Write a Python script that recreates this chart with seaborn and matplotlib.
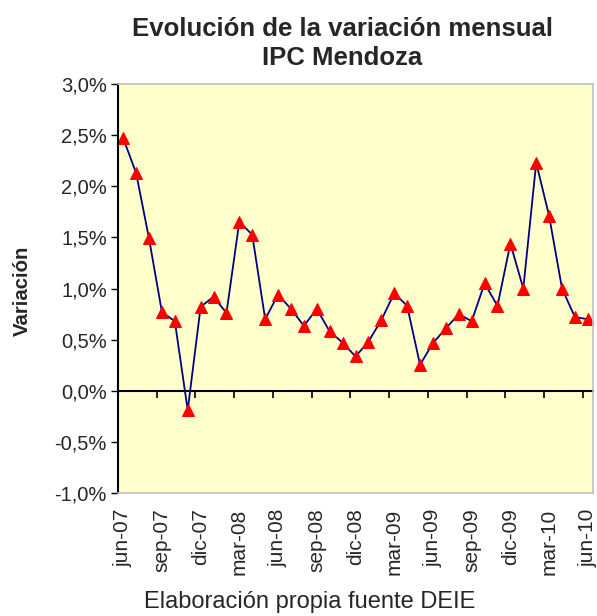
import pandas as pd
import matplotlib.pyplot as plt
import seaborn as sns
from matplotlib.ticker import FuncFormatter

# Monthly CPI variation, Mendoza (jun-07 .. jun-10), in percent
months = ["jun", "jul", "ago", "sep", "oct", "nov", "dic",
          "ene", "feb", "mar", "abr", "may"]
years = ["07"] * 7 + ["08"] * 12 + ["09"] * 12 + ["10"] * 6
month_labels = (months + months + months + months)[:37]
variation = [2.47, 2.13, 1.49, 0.77, 0.68, -0.19, 0.82, 0.92, 0.76, 1.655,
             1.525, 0.70, 0.94, 0.80, 0.635, 0.80, 0.58, 0.47, 0.335,
             0.48, 0.69, 0.955, 0.83, 0.254, 0.466, 0.61, 0.75, 0.68,
             1.05, 0.83, 1.44, 1.00, 2.23, 1.71, 1.00, 0.72, 0.70]


def build_data():
    labels = [m + "-" + y for m, y in zip(month_labels, years)]
    return pd.DataFrame({"Mes": labels, "pos": range(len(labels)), "Variacion": variation})


def plot_ipc(data):
    sns.set_style("white")
    plt.rcParams["font.family"] = ["Liberation Sans", "DejaVu Sans"]

    fig = plt.figure(figsize=(5.97, 6.16), dpi=100)
    ax = fig.add_axes([0.1977, 0.1997, 0.7956, 0.6639])
    ax.set_facecolor("#FFFFCC")

    sns.lineplot(x="pos", y="Variacion", data=data, ax=ax, color="#000080",
                 linewidth=1.3, marker="^", markersize=8,
                 markerfacecolor="red", markeredgecolor="red", markeredgewidth=0.75)

    ax.set_xlim(-0.4, len(data) - 0.6)
    ax.set_ylim(-1.0, 3.0)
    ax.set_yticks([-1.0, -0.5, 0, 0.5, 1.0, 1.5, 2.0, 2.5, 3.0])
    ax.yaxis.set_major_formatter(FuncFormatter(lambda v, p: f"{v:.1f}%".replace(".", ",")))
    ax.tick_params(axis="y", direction="out", length=5, width=1, color="black",
                   labelsize=14.5, pad=3, left=True)

    tick_pos = data["pos"][::3]
    ax.set_xticks(tick_pos)
    ax.set_xticklabels(data["Mes"][::3], rotation=90)
    ax.tick_params(axis="x", length=0, labelsize=15, pad=11)

    # zero line with downward ticks, as in the original chart
    zero_axis = ax.secondary_xaxis(0.25)
    zero_axis.set_xticks(tick_pos - 0.4)
    zero_axis.set_xticklabels([])
    zero_axis.tick_params(direction="out", length=5, width=1.2, color="black")
    zero_axis.spines["bottom"].set_linewidth(1.5)
    zero_axis.spines["bottom"].set_color("black")

    for side in ["top", "right", "bottom"]:
        ax.spines[side].set_color("#C0C0C0")
        ax.spines[side].set_linewidth(1.2)
    ax.spines["left"].set_color("black")
    ax.spines["left"].set_linewidth(1.5)

    ax.set_xlabel("")
    ax.set_ylabel("")
    fig.text(0.037, 0.528, "Variación", rotation=90, ha="center", va="center",
             fontsize=14.7, fontweight="bold")
    fig.text(0.573, 0.929, "Evolución de la variación mensual\nIPC Mendoza",
             ha="center", va="center", fontsize=18.5, fontweight="bold", linespacing=1.25)
    fig.text(0.518, 0.022, "Elaboración propia fuente DEIE", ha="center", va="center",
             fontsize=17)

    fig.savefig("out.png", dpi=100, facecolor="white")


def main():
    data = build_data()
    plot_ipc(data)


if __name__ == "__main__":
    main()
